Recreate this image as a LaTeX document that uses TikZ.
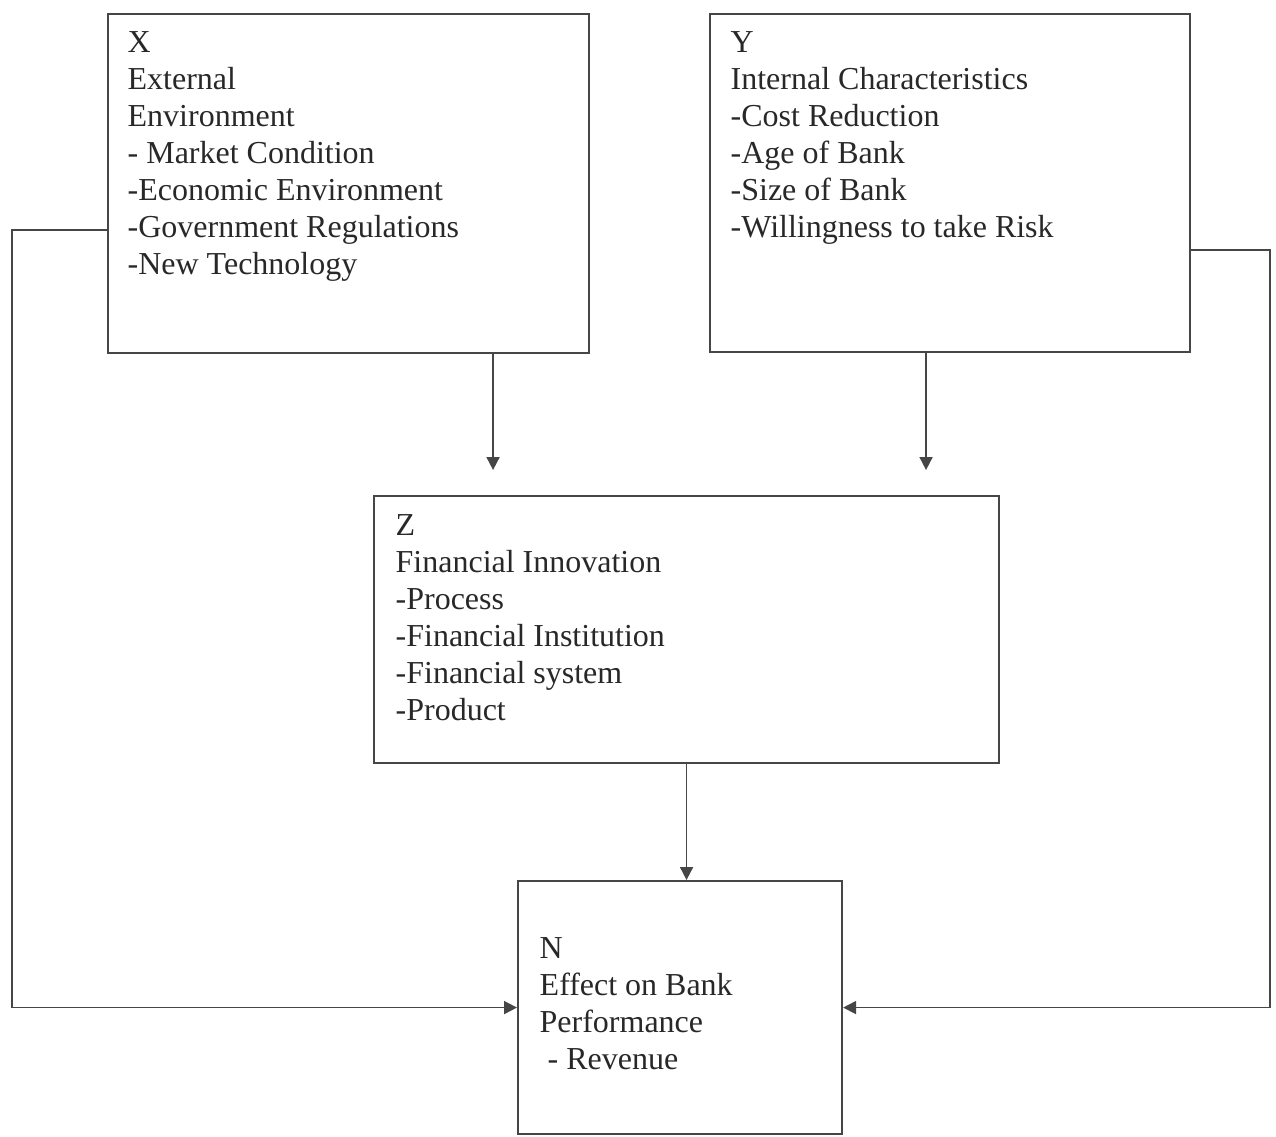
\documentclass[tikz,border=0pt]{standalone}
\usepackage{fontspec}
\setmainfont{Liberation Serif}
\usepackage{tikz}
\usetikzlibrary{arrows.meta, positioning, calc}
\definecolor{scanline}{RGB}{70, 70, 70}
\definecolor{scantext}{RGB}{40, 40, 40}

\begin{document}
\begin{tikzpicture}[>={Triangle[length=1.3mm, width=1.3mm]},
    box/.style={draw=scanline, line width=0.6pt, inner sep=0pt, anchor=north west},
    boxtext/.style={anchor=north west, align=left, inner sep=0pt, text=scantext,
        font=\fontsize{9.1}{10.5}\selectfont},
    link/.style={->, draw=scanline, line width=0.5pt}]
    \useasboundingbox (0, 0) rectangle (12.76, -11.36);

    % the four boxes
    \node[box, minimum width=4.81cm, minimum height=3.39cm] (X) at (1.07, -0.13) {};
    \node[box, minimum width=4.80cm, minimum height=3.38cm] (Y) at (7.09, -0.13) {};
    \node[box, minimum width=6.25cm, minimum height=2.67cm] (Z) at (3.73, -4.95) {};
    \node[box, minimum width=3.24cm, minimum height=2.53cm] (N) at (5.17, -8.80) {};

    % texts inside
    \node[boxtext] (Xtext) at ([shift={(0.20, -0.18)}]X.north west)
        {X\\External\\Environment\\- Market Condition\\-Economic Environment\\-Government Regulations\\-New Technology};
    \node[boxtext] (Ytext) at ([shift={(0.21, -0.18)}]Y.north west)
        {Y\\Internal Characteristics\\-Cost Reduction\\-Age of Bank\\-Size of Bank\\-Willingness to take Risk};
    \node[boxtext] (Ztext) at ([shift={(0.22, -0.19)}]Z.north west)
        {Z\\Financial Innovation\\-Process\\-Financial Institution\\-Financial system\\-Product};
    \node[boxtext] (Ntext) at ([shift={(0.22, -0.57)}]N.north west)
        {N\\Effect on Bank\\Performance\\\hspace*{0.25em}- Revenue};

    % connectors
    \draw[link] ([xshift=1.445cm]X.south) -- ([xshift=-1.935cm, yshift=0.25cm]Z.north);
    \draw[link] ([xshift=-0.24cm]Y.south) -- ([xshift=2.395cm, yshift=0.25cm]Z.north);
    \draw[link] (Z.south) -- (Z.south |- N.north);
    \draw[link] ([yshift=-0.465cm]X.west) -- ++(-0.95, 0) |- (N.west);
    \draw[link] ([yshift=-0.67cm]Y.east) -- ++(0.79, 0) |- (N.east);
\end{tikzpicture}
\end{document}
